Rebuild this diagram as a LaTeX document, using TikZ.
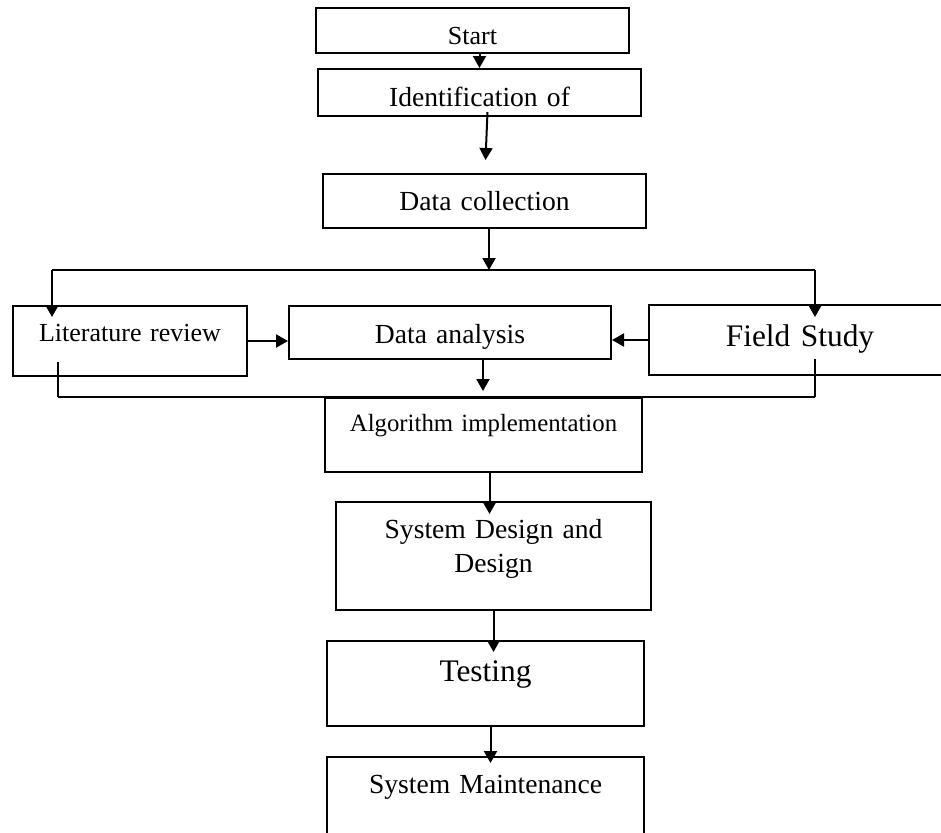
\documentclass[tikz,border=0pt]{standalone}
\usepackage{fontspec}
\setmainfont{Liberation Serif}
\usetikzlibrary{arrows.meta}

\begin{document}
\begin{tikzpicture}[x=0.5pt,y=-0.5pt,
    stage/.style={draw, line width=1pt, inner sep=0pt, align=center, anchor=north west,
        font=\fontsize{13.8}{17}\selectfont},
    big/.style={font=\fontsize{15.7}{19}\selectfont},
    arr/.style={line width=1pt, -{Triangle[length=6pt,width=6.5pt]}},
    link/.style={line width=1pt}]
\useasboundingbox (0,0) rectangle (941,832);
\node[stage, text width=156.5pt, text height=18pt, text depth=4.5pt, font=\fontsize{13}{16}\selectfont] (start) at (315,7) {Start};
\node[stage, text width=161.5pt, text height=18.5pt, text depth=5pt] (ident) at (317,68) {Identification of};
\node[stage, text width=161.5pt, text height=18pt, text depth=9pt] (collect) at (322,173) {Data collection};
\node[stage, text width=117pt, text height=17.5pt, text depth=17.5pt, font=\fontsize{13}{16}\selectfont] (litrev) at (12,305) {Literature review};
\node[stage, text width=161pt, text height=18.5pt, text depth=8pt] (analysis) at (288,305) {Data analysis};
\node[stage, big, text width=151pt, text height=20.5pt, text depth=14.5pt] (field) at (648,304) {Field Study};
\node[stage, text width=158.5pt, text height=16.5pt, text depth=20.5pt, font=\fontsize{12.4}{15}\selectfont] (algo) at (324,397) {Algorithm implementation};
\node[stage, text width=157.5pt, text height=18pt, text depth=36pt] (sysdes) at (335,501) {System Design and\\Design};
\node[stage, big, text width=158.5pt, text height=20pt, text depth=22.5pt] (testing) at (326,640) {Testing};
\node[stage, text width=158.5pt, text height=18pt, text depth=32pt] (maint) at (326,756) {System Maintenance};
\coordinate (fork) at (489,270);
\coordinate (forkL) at (52,270);
\coordinate (forkR) at (815,270);
\coordinate (joinL) at (58,397);
\coordinate (joinR) at (815,397);
\coordinate (mid) at (483,397);
\draw[arr] (start.south -| ident.north) -- (ident.north);
\draw[arr] ([shift={(8,-5)}]ident.south) -- ([shift={(1,-13)}]collect.north);
\draw[arr] (collect.south -| fork) -- (fork);
\draw[link] (forkL) -- (forkR);
\draw[arr] (forkL) -- ++(0,47);
\draw[arr] (forkR) -- ++(0,47);
\draw[arr] (litrev.east) -- (litrev.east -| analysis.west);
\draw[arr] (field.west) -- (field.west -| analysis.east);
\draw[arr] (analysis.south -| mid) -- ++(0,31);
\draw[link] (joinL) -- (joinR);
\draw[link] (joinL) -- ++(0,-35);
\draw[link] (joinR) -- ++(0,-38);
\draw[arr] ([shift={(6,0)}]algo.south) -- ([shift={(-4,13)}]sysdes.north);
\draw[arr] (sysdes.south) -- ([shift={(8,12)}]testing.north);
\draw[arr] ([shift={(5,0)}]testing.south) -- ([shift={(5,7)}]maint.north);
\end{tikzpicture}
\end{document}
